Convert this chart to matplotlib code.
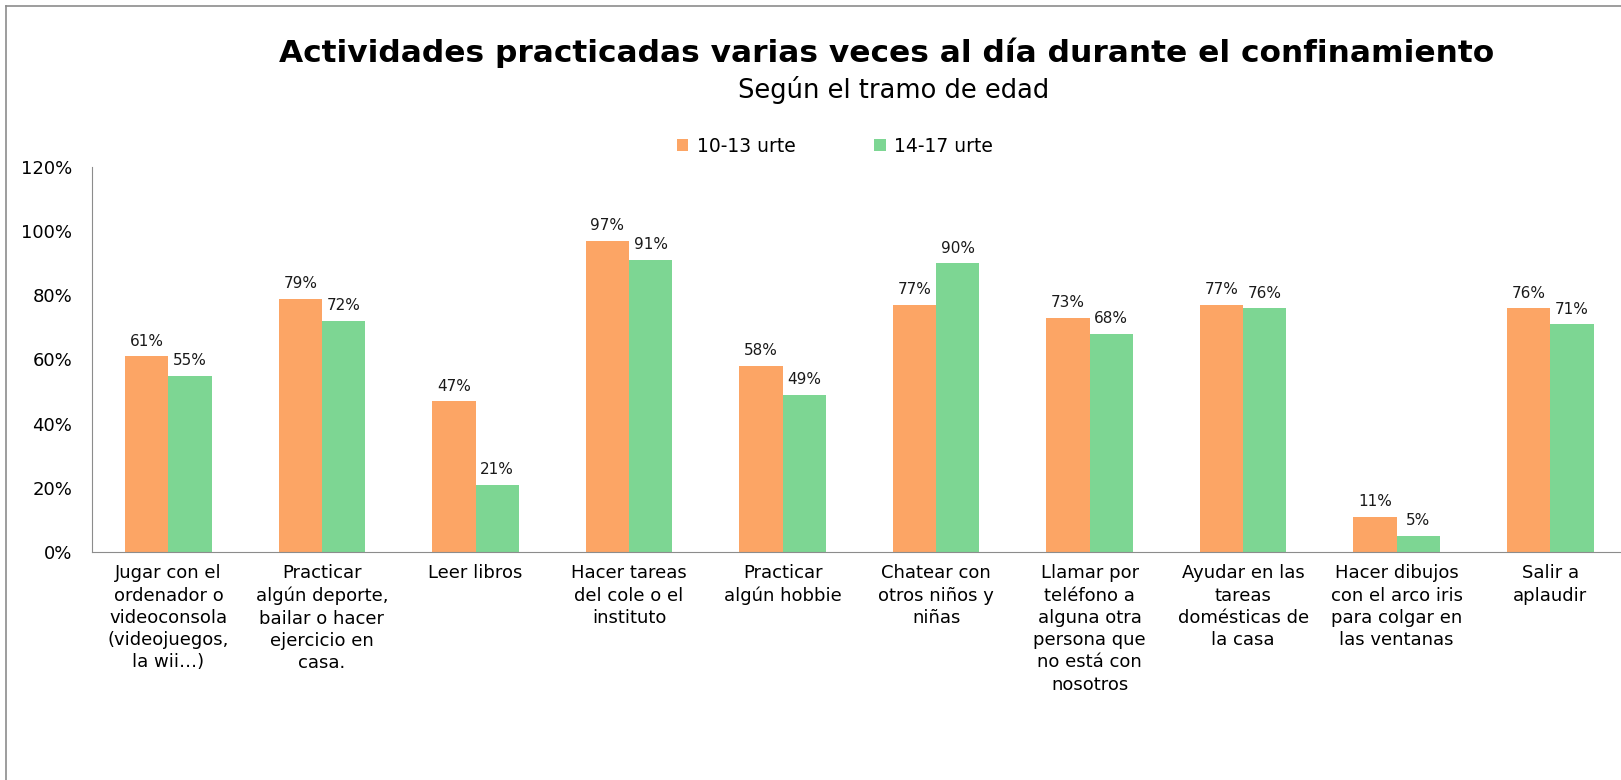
import matplotlib
matplotlib.use("Agg")
import matplotlib.pyplot as plt
from matplotlib.lines import Line2D
import numpy as np

# Chart data
categories = [
    "Jugar con el\nordenador o\nvideoconsola\n(videojuegos,\nla wii…)",
    "Practicar\nalgún deporte,\nbailar o hacer\nejercicio en\ncasa.",
    "Leer libros",
    "Hacer tareas\ndel cole o el\ninstituto",
    "Practicar\nalgún hobbie",
    "Chatear con\notros niños y\nniñas",
    "Llamar por\nteléfono a\nalguna otra\npersona que\nno está con\nnosotros",
    "Ayudar en las\ntareas\ndomésticas de\nla casa",
    "Hacer dibujos\ncon el arco iris\npara colgar en\nlas ventanas",
    "Salir a\naplaudir",
]
series_names = ["10-13 urte", "14-17 urte"]
vals_10_13 = [61, 79, 47, 97, 58, 77, 73, 77, 11, 76]
vals_14_17 = [55, 72, 21, 91, 49, 90, 68, 76, 5, 71]
yticks = [0, 20, 40, 60, 80, 100, 120]

orange = "#FCA565"
green = "#7DD693"

plt.rcParams["font.family"] = ["DejaVu Sans"]

W, H = 1621, 780
fig = plt.figure(figsize=(W / 100, H / 100), dpi=100)
# plot area: left spine at x=91.7px, 0% at y=552px, 120% at y=167px
ax = fig.add_axes([91.7 / W, 1 - 552 / H, (1627 - 91.7) / W, (552 - 167) / H])

x = np.arange(len(categories))
w = 0.282
b1 = ax.bar(x - w / 2, vals_10_13, w, color=orange, label=series_names[0])
b2 = ax.bar(x + w / 2, vals_14_17, w, color=green, label=series_names[1])

for bars, vals in ((b1, vals_10_13), (b2, vals_14_17)):
    for rect, v in zip(bars, vals):
        ax.text(rect.get_x() + rect.get_width() / 2, v + 3.3, f"{v}%",
                ha="center", va="baseline", fontsize=11, color="#1a1a1a")

ax.set_xlim(-0.5, len(categories) - 0.5)
ax.set_ylim(0, 120)
ax.set_yticks(yticks)
ax.set_yticklabels([f"{t}%" for t in yticks], fontsize=13)
ax.set_xticks(x)
ax.set_xticklabels(categories, fontsize=13, linespacing=1.3, va="top")
ax.tick_params(axis="both", length=0)
ax.tick_params(axis="y", pad=14)
ax.tick_params(axis="x", pad=9)

for s in ("top", "right"):
    ax.spines[s].set_visible(False)
ax.spines["left"].set_color("#8c8c8c")
ax.spines["bottom"].set_color("#8c8c8c")

# titles
fig.text(887 / W, 1 - 61.7 / H, "Actividades practicadas varias veces al día durante el confinamiento",
         ha="center", va="baseline", fontsize=22.5, fontweight="bold")
fig.text(894 / W, 1 - 98.3 / H, "Según el tramo de edad", ha="center", va="baseline", fontsize=18.5)

ax.legend(loc="center", bbox_to_anchor=(835 / W, 1 - 146 / H), bbox_transform=fig.transFigure,
          ncol=2, frameon=False, fontsize=13.5, handlelength=0.62, handleheight=0.62,
          columnspacing=4.2, handletextpad=0.45, borderpad=0, borderaxespad=0)

# outer frame (top and left edges)
fig.add_artist(Line2D([6 / W, 1], [1 - 6 / H, 1 - 6 / H], color="#8c8c8c", lw=1.2))
fig.add_artist(Line2D([6 / W, 6 / W], [0, 1 - 6 / H], color="#8c8c8c", lw=1.2))

fig.savefig("out.png", dpi=100)
